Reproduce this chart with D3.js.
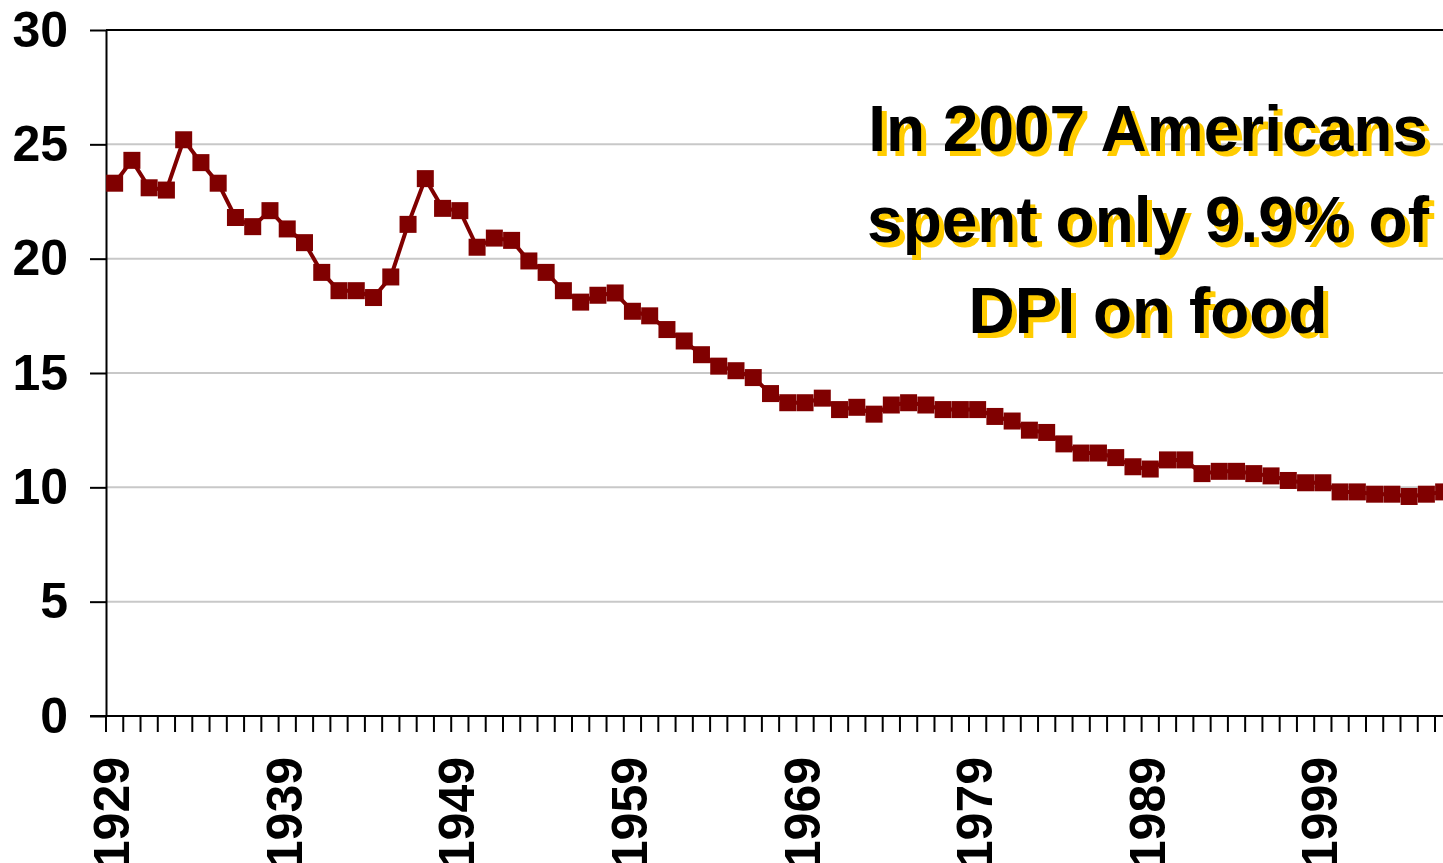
<!DOCTYPE html>
<html lang="en">
<head>
	<meta charset="utf-8">
	<title>Food share of DPI</title>
	<style type="text/css">
		body {
			margin: 0;
			background: #fff;
			font-family: Arial, "Liberation Sans", Helvetica, sans-serif;
		}
	</style>
</head>
<body>
	<svg id="chart" width="1443" height="863"></svg>

	<script src="https://cdnjs.cloudflare.com/ajax/libs/d3/7.8.5/d3.min.js"></script>
	<script type="text/javascript">
		// years on the category axis
		var years = d3.range(1929, 2008);

		// food spending as % of disposable personal income
		var foodShare = [
			23.3, 24.3, 23.1, 23.0, 25.2, 24.2, 23.3, 21.8, 21.4, 22.1,
			21.3, 20.7, 19.4, 18.6, 18.6, 18.3, 19.2, 21.5, 23.5, 22.2,
			22.1, 20.5, 20.9, 20.8, 19.9, 19.4, 18.6, 18.1, 18.4, 18.5,
			17.7, 17.5, 16.9, 16.4, 15.8, 15.3, 15.1, 14.8, 14.1, 13.7,
			13.7, 13.9, 13.4, 13.5, 13.2, 13.6, 13.7, 13.6, 13.4, 13.4,
			13.4, 13.1, 12.9, 12.5, 12.4, 11.9, 11.5, 11.5, 11.3, 10.9,
			10.8, 11.2, 11.2, 10.6, 10.7, 10.7, 10.6, 10.5, 10.3, 10.2,
			10.2, 9.8, 9.8, 9.7, 9.7, 9.6, 9.7, 9.8, 9.9
		];

		var yTicks = [0, 5, 10, 15, 20, 25, 30];
		var xLabelYears = [1929, 1939, 1949, 1959, 1969, 1979, 1989, 1999];

		var note = ["In 2007 Americans", "spent only 9.9% of", "DPI on food"];

		var data = years.map(function (yr, i) {
			return { year: yr, value: foodShare[i] };
		});

		var svg = d3.select("#chart");
		var W = 1443;
		var plotLeft = 106, plotTop = 30, plotBottom = 716;
		var step = 17.26;

		var x = d3.scaleBand()
			.domain(years)
			.range([plotLeft, plotLeft + years.length * step])
			.padding(0);
		var bw = x.bandwidth();

		var y = d3.scaleLinear()
			.domain([0, 30])
			.range([plotBottom, plotTop]);

		// gridlines
		svg.append("g")
			.selectAll("line")
			.data(yTicks.filter(function (t) { return t > 0 && t < 30; }))
			.join("line")
			.attr("x1", plotLeft).attr("x2", W)
			.attr("y1", function (d) { return y(d); })
			.attr("y2", function (d) { return y(d); })
			.attr("stroke", "#c8c8c8")
			.attr("stroke-width", 2);

		// top border of the plot
		svg.append("line")
			.attr("x1", plotLeft).attr("x2", W)
			.attr("y1", y(30)).attr("y2", y(30))
			.attr("stroke", "#000").attr("stroke-width", 2);

		// y axis
		var yAxis = d3.axisLeft(y)
			.tickValues(yTicks)
			.tickSize(16)
			.tickSizeOuter(0)
			.tickPadding(22);
		var gy = svg.append("g")
			.attr("transform", "translate(" + plotLeft + ",0)")
			.call(yAxis);
		gy.select(".domain").attr("stroke", "#000").attr("stroke-width", 2);
		gy.selectAll(".tick line").attr("stroke-width", 2);
		gy.selectAll(".tick text")
			.attr("font-family", "Arial, 'Liberation Sans', sans-serif")
			.attr("font-weight", "bold")
			.attr("font-size", 50)
			.attr("fill", "#000");

		// x axis line
		svg.append("line")
			.attr("x1", plotLeft - 16).attr("x2", W)
			.attr("y1", plotBottom).attr("y2", plotBottom)
			.attr("stroke", "#000").attr("stroke-width", 2);

		// category tick marks on band edges
		svg.append("g")
			.selectAll("line")
			.data(years)
			.join("line")
			.attr("x1", function (d) { return x(d); })
			.attr("x2", function (d) { return x(d); })
			.attr("y1", plotBottom)
			.attr("y2", plotBottom + 16)
			.attr("stroke", "#000")
			.attr("stroke-width", 2);

		// rotated year labels
		svg.append("g")
			.selectAll("text")
			.data(xLabelYears)
			.join("text")
			.attr("transform", function (d) {
				return "translate(" + (x(d) + bw / 2 - 3) + "," + (plotBottom + 41) + ") rotate(-90)";
			})
			.attr("text-anchor", "end")
			.attr("dy", "0.35em")
			.attr("font-family", "Arial, 'Liberation Sans', sans-serif")
			.attr("font-weight", "bold")
			.attr("font-size", 50)
			.text(function (d) { return d; });

		// series line
		var line = d3.line()
			.x(function (d) { return x(d.year) + bw / 2; })
			.y(function (d) { return y(d.value); });

		svg.append("path")
			.datum(data)
			.attr("d", line)
			.attr("fill", "none")
			.attr("stroke", "#800000")
			.attr("stroke-width", 4)
			.attr("stroke-linejoin", "round");

		// square markers
		var ms = 17;
		svg.append("g")
			.selectAll("rect")
			.data(data)
			.join("rect")
			.attr("x", function (d) { return x(d.year) + bw / 2 - ms / 2; })
			.attr("y", function (d) { return y(d.value) - ms / 2; })
			.attr("width", ms)
			.attr("height", ms)
			.attr("fill", "#800000");

		// annotation with yellow shadow
		var noteX = 1148, noteY = 151, lh = 91;
		[["#ffcc00", 5], ["#000", 0]].forEach(function (s) {
			svg.append("g")
				.selectAll("text")
				.data(note)
				.join("text")
				.attr("x", noteX + s[1])
				.attr("y", function (d, i) { return noteY + i * lh + s[1]; })
				.attr("text-anchor", "middle")
				.attr("font-family", "Arial, 'Liberation Sans', sans-serif")
				.attr("font-weight", "bold")
				.attr("font-size", 64)
				.attr("fill", s[0])
				.text(function (d) { return d; });
		});
	</script>
</body>
</html>
